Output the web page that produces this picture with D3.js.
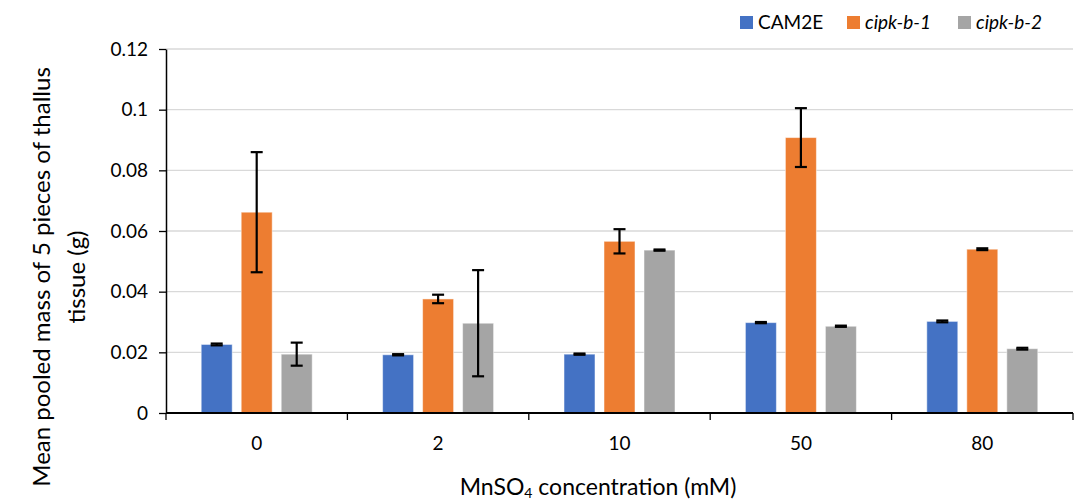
<!DOCTYPE html>
<html>
<head>
<meta charset="utf-8">
<script src="https://cdn.jsdelivr.net/npm/d3@7"></script>
<style>
  body { margin: 0; background: #fff; }
  svg { font-family: Lato, "Noto Sans", sans-serif; }
</style>
</head>
<body>
<svg width="1077" height="500"></svg>
<script>
    // data
    const categories = ['0', '2', '10', '50', '80'];
    const series = ['CAM2E', 'cipk-b-1', 'cipk-b-2'];
    const colors = ['#4472C4', '#ED7D31', '#A5A5A5'];
    const cam2e = [0.0226, 0.0192, 0.0194, 0.0298, 0.0302];
    const cipkB1 = [0.0662, 0.0376, 0.0566, 0.0908, 0.054];
    const cipkB2 = [0.0194, 0.0296, 0.0537, 0.0286, 0.0212];
    const cam2eErr = [0.0003, 0.0002, 0.0002, 0.0002, 0.0003];
    const cipkB1Err = [0.0198, 0.0014, 0.004, 0.0097, 0.0003];
    const cipkB2Err = [0.0038, 0.0175, 0.0002, 0.0002, 0.0003];
    const yTicks = [0, 0.02, 0.04, 0.06, 0.08, 0.1, 0.12];

    const values = [cam2e, cipkB1, cipkB2];
    const errors = [cam2eErr, cipkB1Err, cipkB2Err];

    const svg = d3.select('svg');
    const margin = { top: 49, right: 4, bottom: 87, left: 166 };
    const width = 1073 - margin.left;
    const height = 413 - margin.top;

    // scales
    const x0 = d3.scaleBand()
      .domain(categories)
      .range([0, width]);
    const cw = x0.bandwidth();
    const x1 = d3.scaleBand()
      .domain(series)
      .range([cw / 2 - 55.5, cw / 2 + 55.5])
      .paddingInner(0.225);
    const yScale = d3.scaleLinear()
      .domain([0, 0.12])
      .range([height, 0]);

    const g = svg.append('g')
      .attr('transform', 'translate(' + margin.left + ',' + margin.top + ')');

    // gridlines
    g.append('g')
      .selectAll('line')
      .data(yTicks.filter(d => d > 0))
      .enter().append('line')
      .attr('x1', 0)
      .attr('x2', width)
      .attr('y1', d => yScale(d))
      .attr('y2', d => yScale(d))
      .attr('stroke', '#d9d9d9')
      .attr('stroke-width', 1.3);

    // flatten into rows for the bars
    const rows = [];
    categories.forEach((c, i) => {
      series.forEach((s, j) => {
        rows.push({ cat: c, ser: s, color: colors[j], v: values[j][i], e: errors[j][i] });
      });
    });

    const bars = g.append('g');
    bars.selectAll('rect')
      .data(rows)
      .enter().append('rect')
      .attr('x', d => x0(d.cat) + x1(d.ser))
      .attr('y', d => yScale(d.v))
      .attr('width', x1.bandwidth())
      .attr('height', d => height - yScale(d.v))
      .attr('fill', d => d.color)
      .attr('stroke', 'rgba(255,255,255,0.5)')
      .attr('stroke-width', 1);

    // error bars
    const eb = g.append('g')
      .attr('stroke', '#000')
      .attr('stroke-width', 2.2);
    rows.forEach(d => {
      const cx = x0(d.cat) + x1(d.ser) + x1.bandwidth() / 2;
      const yt = yScale(d.v + d.e);
      const yb = yScale(d.v - d.e);
      eb.append('line').attr('x1', cx).attr('x2', cx).attr('y1', yt).attr('y2', yb);
      eb.append('line').attr('x1', cx - 6).attr('x2', cx + 6).attr('y1', yt).attr('y2', yt);
      eb.append('line').attr('x1', cx - 6).attr('x2', cx + 6).attr('y1', yb).attr('y2', yb);
    });

    // y axis
    const yAxis = d3.axisLeft(yScale)
      .tickValues(yTicks)
      .tickFormat(d => d3.format('')(+d.toFixed(2)))
      .tickSizeInner(7)
      .tickSizeOuter(0)
      .tickPadding(11);
    const gY = g.append('g').call(yAxis);
    gY.select('.domain').attr('stroke', '#000').attr('stroke-width', 1.5);
    gY.selectAll('.tick line').attr('stroke', '#000').attr('stroke-width', 1.3);
    gY.selectAll('.tick text')
      .attr('font-size', 19)
      .attr('font-family', 'Lato, sans-serif')
      .attr('fill', '#000');

    // x axis: ticks on category boundaries
    const gX = g.append('g')
      .attr('transform', 'translate(0,' + height + ')');
    gX.append('line')
      .attr('x1', 0).attr('x2', width)
      .attr('stroke', '#000').attr('stroke-width', 2.2);
    const bounds = categories.map(c => x0(c)).concat([width]);
    gX.selectAll('.bt')
      .data(bounds)
      .enter().append('line')
      .attr('class', 'bt')
      .attr('x1', d => d).attr('x2', d => d)
      .attr('y1', 0).attr('y2', 7)
      .attr('stroke', '#000').attr('stroke-width', 1.3);
    gX.selectAll('.cl')
      .data(categories)
      .enter().append('text')
      .attr('class', 'cl')
      .attr('x', d => x0(d) + cw / 2)
      .attr('y', 37)
      .attr('text-anchor', 'middle')
      .attr('font-size', 19)
      .text(d => d);

    // axis titles
    const xt = svg.append('text')
      .attr('x', 598)
      .attr('y', 495)
      .attr('text-anchor', 'middle')
      .attr('font-size', 23);
    xt.append('tspan').text('MnSO');
    xt.append('tspan').attr('font-size', 14).attr('dy', 3).text('4');
    xt.append('tspan').attr('dy', -3).text(' concentration (mM)');

    const yt = svg.append('text')
      .attr('transform', 'translate(0,277) rotate(-90)')
      .attr('text-anchor', 'middle')
      .attr('font-size', 24);
    yt.append('tspan').attr('x', 0).attr('y', 50).text('Mean pooled mass of 5 pieces of thallus');
    yt.append('tspan').attr('x', 0).attr('y', 85).text('tissue (g)');

    // legend
    const legendX = [740, 847, 958];
    const legend = svg.append('g');
    series.forEach((s, i) => {
      legend.append('rect')
        .attr('x', legendX[i]).attr('y', 16)
        .attr('width', 13).attr('height', 13)
        .attr('fill', colors[i]);
      legend.append('text')
        .attr('x', legendX[i] + 18).attr('y', 29)
        .attr('font-size', 19)
        .attr('font-style', i === 0 ? 'normal' : 'italic')
        .text(s);
    });
</script>
</body>
</html>
